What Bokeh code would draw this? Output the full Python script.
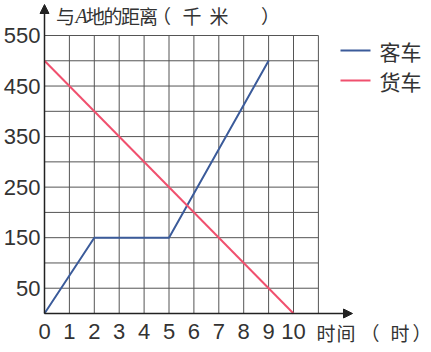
from bokeh.plotting import figure
from bokeh.models import Range1d, Arrow, NormalHead
from bokeh.core.properties import value
from bokeh.embed import file_html
from bokeh.resources import INLINE

# data
bus_hours = [0, 2, 5, 9]
bus_dist = [0, 150, 150, 500]
truck_hours = [0, 10]
truck_dist = [500, 0]
x_ticks = list(range(0, 11))
y_ticks = [50, 150, 250, 350, 450, 550]
grid_x = list(range(0, 12))
grid_y = list(range(0, 551, 50))
y_title_parts = ["与", "A", "地", "的", "距", "离", "（", "千", "米", "）"]
x_title_parts = ["时", "间", "（", "时", "）"]
series_names = ["客车", "货车"]
colors = ["#3b5b9a", "#f0506e"]

W, H = 431, 352
x0px, xs = 44.0, 24.9
y0px, ys = 313.0, 278.0 / 550


def dx(px):
    return (px - x0px) / xs


def dy(py):
    return (y0px - py) / ys


p = figure(width=W, height=H, output_backend="svg", toolbar_location=None,
           min_border=0, outline_line_color=None,
           x_range=Range1d(dx(0), dx(W)),
           y_range=Range1d(dy(H), dy(0)))
p.xaxis.visible = False
p.yaxis.visible = False
p.grid.visible = False
p.background_fill_color = "white"
p.border_fill_color = "white"

grid_col = "#555555"
p.segment(x0=grid_x, y0=[0] * len(grid_x), x1=grid_x, y1=[550] * len(grid_x),
          line_color=grid_col, line_width=1)
p.segment(x0=[0] * len(grid_y), y0=grid_y, x1=[11] * len(grid_y), y1=grid_y,
          line_color=grid_col, line_width=1)

# axes with arrows
p.add_layout(Arrow(end=NormalHead(size=9, fill_color="#222222", line_color="#222222"),
                   x_start=0, y_start=0, x_end=dx(352), y_end=0,
                   line_color="#222222", line_width=1.5))
p.add_layout(Arrow(end=NormalHead(size=9, fill_color="#222222", line_color="#222222"),
                   x_start=0, y_start=0, x_end=0, y_end=dy(4),
                   line_color="#222222", line_width=1.5))

p.line(bus_hours, bus_dist, line_color=colors[0], line_width=2)
p.line(truck_hours, truck_dist, line_color=colors[1], line_width=2)

num_font = value("'Liberation Sans Narrow', 'Liberation Sans', sans-serif")
cjk_font = value("Noto Sans CJK SC")
txt_col = "#333333"

p.text(x=[0] * len(y_ticks), y=y_ticks, text=[str(v) for v in y_ticks],
       x_offset=-4, text_align="right", text_baseline="middle",
       text_font=num_font, text_font_size="22px", text_color=txt_col)
p.text(x=x_ticks, y=[0] * len(x_ticks), text=[str(v) for v in x_ticks],
       y_offset=18, text_align="center", text_baseline="middle",
       text_font=num_font, text_font_size="22px", text_color=txt_col)

# axis titles, placed glyph by glyph to match the spaced-out lettering
s = 19
y_centers = [65, 81, 95, 112.5, 130, 148, 161, 191.5, 218.5, 270]
for ch, cx in zip(y_title_parts, y_centers):
    if ch == "A":
        p.text(x=[dx(cx)], y=[dy(15)], text=[ch], text_align="center",
               text_baseline="middle", text_font=value("Liberation Serif"),
               text_font_style="italic", text_font_size="20px", text_color=txt_col)
    else:
        p.text(x=[dx(cx)], y=[dy(15)], text=[ch], text_align="center",
               text_baseline="middle", text_font=cjk_font,
               text_font_size=f"{s}px", text_color=txt_col)

x_centers = [325.5, 345.5, 369.5, 399.5, 421.5]
for ch, cx in zip(x_title_parts, x_centers):
    p.text(x=[dx(cx)], y=[dy(332)], text=[ch], text_align="center",
           text_baseline="middle", text_font=cjk_font,
           text_font_size=f"{s}px", text_color=txt_col)

# legend
leg_y = [dy(50), dy(80)]
p.segment(x0=[dx(340)] * 2, y0=leg_y, x1=[dx(370)] * 2, y1=leg_y,
          line_color=colors, line_width=2)
p.text(x=[dx(379)] * 2, y=leg_y, text=series_names,
       text_align="left", text_baseline="middle",
       text_font=cjk_font, text_font_size="21px", text_color=txt_col)

open("out.html", "w").write(file_html(p, INLINE))
